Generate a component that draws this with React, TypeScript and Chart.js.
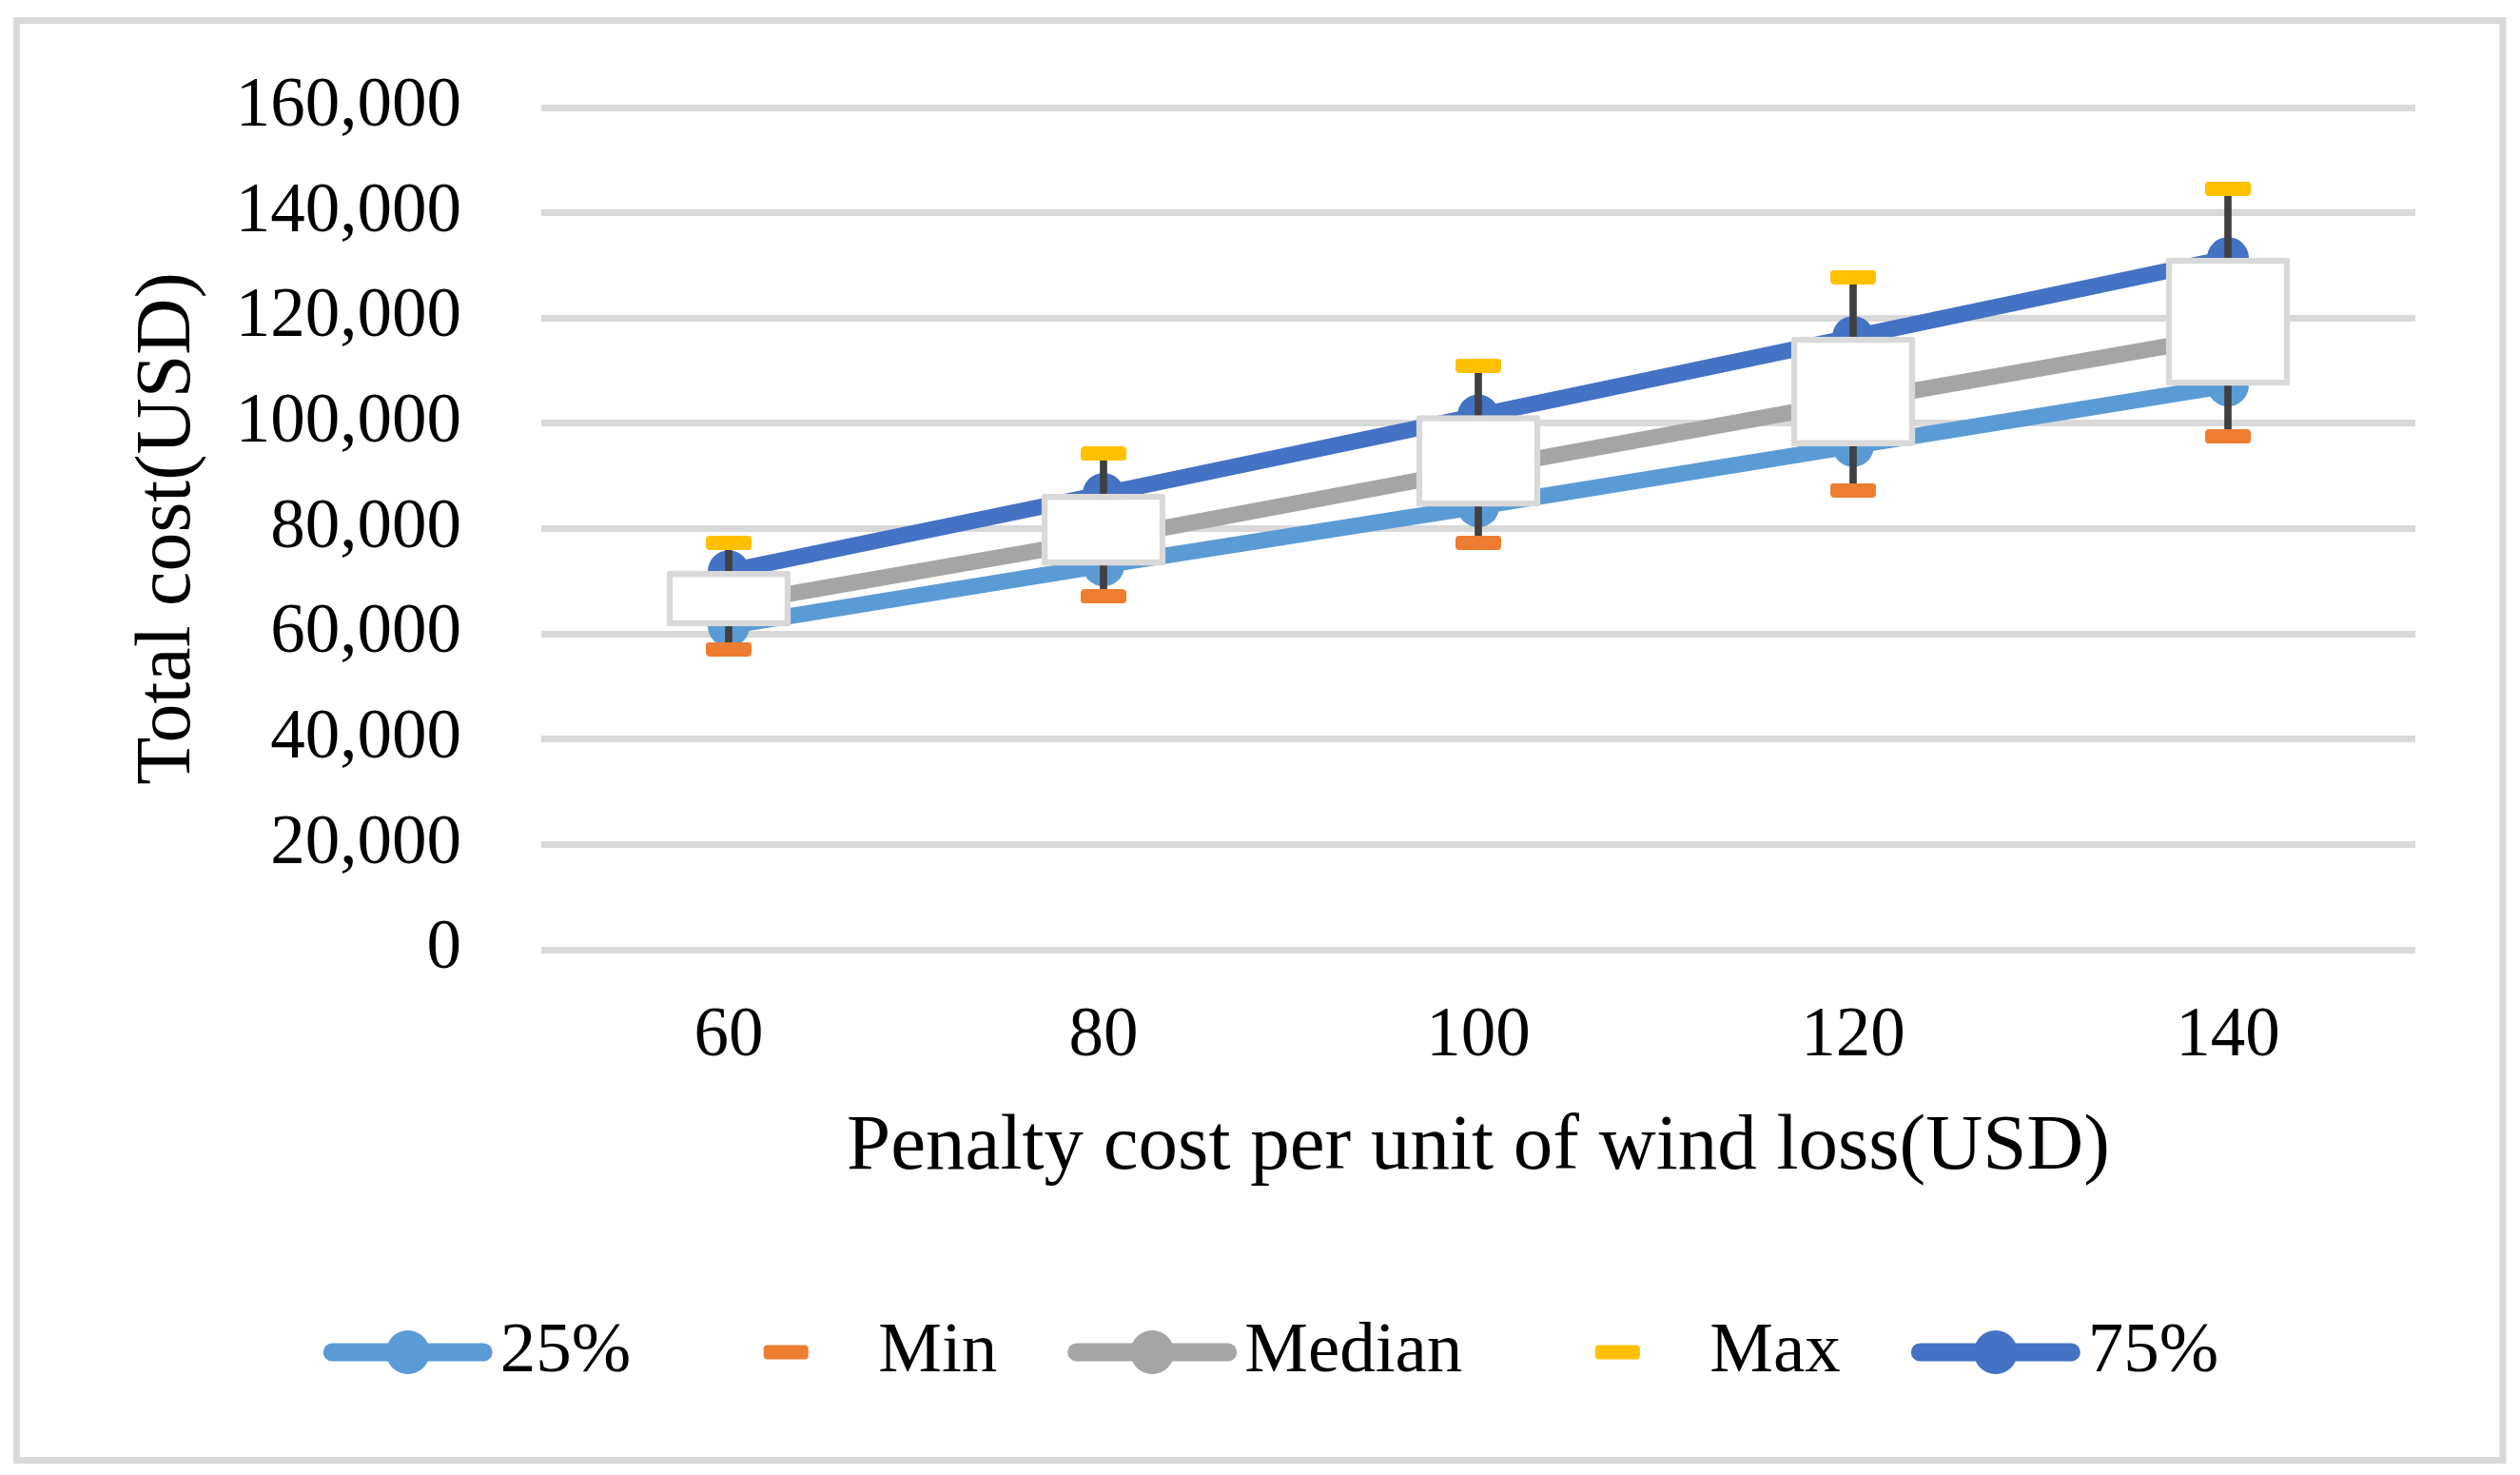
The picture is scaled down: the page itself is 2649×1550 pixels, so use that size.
import React, { useEffect, useRef } from 'react';
import { Chart, registerables } from 'chart.js';

Chart.register(...registerables);

// ---- data ----
const categories = ['60', '80', '100', '120', '140'];
const q25 = [61500, 73000, 84200, 95700, 107200];
const minV = [57100, 67100, 77300, 87300, 97500];
const median = [65600, 78000, 91300, 104200, 116700];
const maxV = [77300, 94200, 111000, 127800, 144600];
const q75 = [71900, 86600, 101500, 116400, 131400];
const seriesLabels = ['25%', 'Min', 'Median', 'Max', '75%'];
const xTitle = 'Penalty cost per unit of wind loss(USD)';
const yTitle = 'Total cost(USD)';

const W = 2649;
const H = 1550;
const FONT = '"Liberation Serif", "Times New Roman", serif';

const C25 = '#5B9BD5';
const CMIN = '#ED7D31';
const CMED = '#A5A5A5';
const CMAX = '#FFC000';
const C75 = '#4472C4';
const GRID = '#D9D9D9';

function roundRect(ctx: CanvasRenderingContext2D, x: number, y: number, w: number, h: number, r: number) {
  ctx.beginPath();
  ctx.moveTo(x + r, y);
  ctx.lineTo(x + w - r, y);
  ctx.quadraticCurveTo(x + w, y, x + w, y + r);
  ctx.lineTo(x + w, y + h - r);
  ctx.quadraticCurveTo(x + w, y + h, x + w - r, y + h);
  ctx.lineTo(x + r, y + h);
  ctx.quadraticCurveTo(x, y + h, x, y + h - r);
  ctx.lineTo(x, y + r);
  ctx.quadraticCurveTo(x, y, x + r, y);
  ctx.closePath();
}

function dashImage(color: string) {
  const c = document.createElement('canvas');
  c.width = 48;
  c.height = 15;
  const ctx = c.getContext('2d')!;
  ctx.fillStyle = color;
  roundRect(ctx, 0, 0, 48, 15, 4);
  ctx.fill();
  return c;
}

const framePlugin = {
  id: 'frame',
  beforeDraw(chart: any) {
    const ctx = chart.ctx;
    ctx.save();
    ctx.fillStyle = '#FFFFFF';
    ctx.fillRect(0, 0, chart.width, chart.height);
    ctx.strokeStyle = GRID;
    ctx.lineWidth = 7;
    ctx.strokeRect(17.5, 21.5, 2613.5, 1513);
    ctx.restore();
  },
};

const legendPlugin = {
  id: 'excelLegend',
  afterDraw(chart: any) {
    const ctx: CanvasRenderingContext2D = chart.ctx;
    const items = chart.data.datasets.filter((d: any) => d.legendKind);
    ctx.save();
    ctx.font = `75px ${FONT}`;
    const SYM = 178;
    const TG = 8;
    const GAP = 74;
    const widths = items.map((d: any) => SYM + TG + ctx.measureText(d.label).width);
    const total = widths.reduce((a: number, b: number) => a + b, 0) + GAP * (items.length - 1);
    let x = 1336 - total / 2;
    const y = 1421;
    items.forEach((d: any, i: number) => {
      const color = d.legendColor;
      const cx = x + SYM / 2;
      if (d.legendKind === 'line') {
        ctx.strokeStyle = color;
        ctx.lineWidth = 19;
        ctx.lineCap = 'round';
        ctx.beginPath();
        ctx.moveTo(x + 9.5, y);
        ctx.lineTo(x + SYM - 9.5, y);
        ctx.stroke();
        ctx.fillStyle = color;
        ctx.beginPath();
        ctx.arc(cx, y, 23, 0, Math.PI * 2);
        ctx.fill();
      } else {
        ctx.fillStyle = color;
        roundRect(ctx, cx - 23.5, y - 7.5, 47, 15, 4);
        ctx.fill();
      }
      ctx.fillStyle = '#000000';
      ctx.textAlign = 'left';
      ctx.textBaseline = 'middle';
      ctx.fillText(d.label, x + SYM + TG, y);
      x += widths[i] + GAP;
    });
    ctx.restore();
  },
};

export default function App() {
  const ref = useRef<HTMLCanvasElement | null>(null);

  useEffect(() => {
    if (!ref.current) return;
    const lineDs = (label: string, data: number[], color: string) => ({
      type: 'line' as const,
      label,
      data,
      borderColor: color,
      backgroundColor: color,
      borderWidth: 17,
      tension: 0,
      pointRadius: 22,
      pointHoverRadius: 22,
      pointBorderWidth: 0,
      pointBackgroundColor: color,
      order: 3,
      legendKind: 'line',
      legendColor: color,
      clip: false,
    });
    const markDs = (label: string, data: number[], color: string) => ({
      type: 'line' as const,
      label,
      data,
      showLine: false,
      borderColor: color,
      backgroundColor: color,
      pointStyle: dashImage(color),
      pointRadius: 24,
      order: 0,
      legendKind: 'mark',
      legendColor: color,
      clip: false,
    });
    const chart = new Chart(ref.current, {
      type: 'line',
      data: {
        labels: categories,
        datasets: [
          lineDs(seriesLabels[0], q25, C25),
          markDs(seriesLabels[1], minV, CMIN),
          lineDs(seriesLabels[2], median, CMED),
          markDs(seriesLabels[3], maxV, CMAX),
          lineDs(seriesLabels[4], q75, C75),
          {
            type: 'bar',
            label: 'High-Low',
            data: categories.map((_, i) => [minV[i], maxV[i]]),
            backgroundColor: '#404040',
            borderWidth: 0,
            barThickness: 7,
            grouped: false,
            order: 2,
          } as any,
          {
            type: 'bar',
            label: 'Up-Down',
            data: categories.map((_, i) => [q25[i], q75[i]]),
            backgroundColor: '#FFFFFF',
            borderColor: GRID,
            borderWidth: 6.5,
            borderSkipped: false,
            borderRadius: 3,
            barThickness: 130,
            grouped: false,
            order: 1,
          } as any,
        ] as any,
      },
      options: {
        responsive: false,
        animation: false,
        devicePixelRatio: 1,
        layout: { padding: { top: 113, right: 110, bottom: 250, left: 0 } },
        plugins: {
          legend: { display: false },
          tooltip: { enabled: false },
          title: { display: false },
        },
        events: [],
        scales: {
          x: {
            type: 'category',
            offset: true,
            grid: { display: false, drawTicks: false },
            border: { display: false },
            ticks: {
              color: '#000000',
              font: { family: FONT, size: 73 },
              padding: 48,
              maxRotation: 0,
            },
            title: {
              display: true,
              text: xTitle,
              color: '#000000',
              font: { family: FONT, size: 83 },
              padding: { top: 0, bottom: 44 },
            },
            afterFit: (scale: any) => {
              scale.height = 302;
            },
          },
          y: {
            min: 0,
            max: 160000,
            grid: {
              color: GRID,
              lineWidth: 7,
              drawTicks: true,
              tickLength: 84,
              tickColor: 'rgba(0,0,0,0)',
              tickWidth: 0,
            },
            border: { display: false },
            ticks: {
              stepSize: 20000,
              color: '#000000',
              font: { family: FONT, size: 73 },
              padding: 0,
              callback: (v: any) => Number(v).toLocaleString('en-US'),
            },
            title: {
              display: true,
              text: yTitle,
              color: '#000000',
              font: { family: FONT, size: 82 },
              padding: { top: 128, bottom: 0 },
            },
            afterFit: (scale: any) => {
              scale.width = 569;
            },
          },
        },
      } as any,
      plugins: [framePlugin, legendPlugin],
    });
    return () => chart.destroy();
  }, []);

  return (
    <div style={{ position: 'absolute', left: 0, top: 0, width: W, height: H, background: '#fff' }}>
      <canvas ref={ref} width={W} height={H} style={{ width: W, height: H, display: 'block' }} />
    </div>
  );
}
